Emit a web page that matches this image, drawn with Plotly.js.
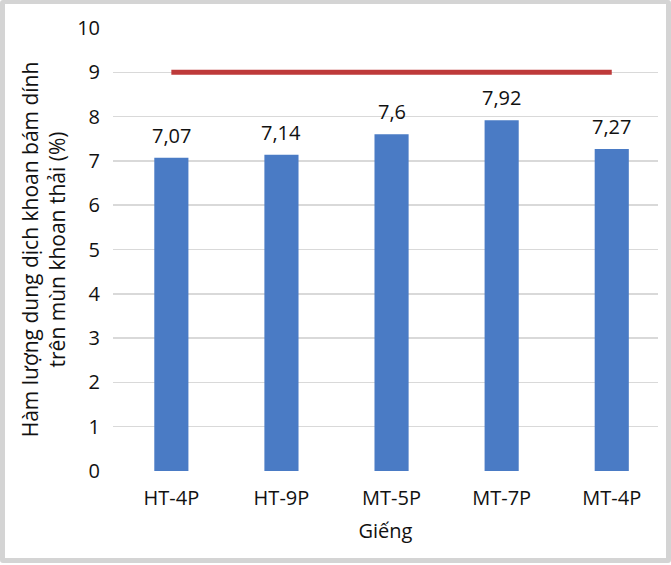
<!DOCTYPE html>
<html>
<head>
<meta charset="utf-8">
<script src="https://cdn.plot.ly/plotly-3.0.1.min.js"></script>
<style>
html,body{margin:0;padding:0;background:#fff;}
#frame{position:absolute;left:0;top:0;width:671px;height:563px;box-sizing:border-box;border:5px solid #d4d4d4;border-top-width:4px;border-radius:3px;}
#chart{position:absolute;left:0;top:0;width:671px;height:565px;}
</style>
</head>
<body>
<div id="chart"></div>
<div id="frame"></div>
<script>
const categories = ["HT-4P", "HT-9P", "MT-5P", "MT-7P", "MT-4P"];
const values = [7.07, 7.14, 7.6, 7.92, 7.27];
const limitValues = [9, 9, 9, 9, 9];
const yTitle = "Hàm lượng dung dịch khoan bám dính<br>trên mùn khoan thải (%)";
const xTitle = "Giếng";

const font = "Open Sans, Noto Sans, sans-serif";
const ink = "#111";

const traces = [
  {
    type: "bar",
    x: categories,
    y: values,
    marker: {color: "#4a7bc5"},
    hoverinfo: "skip"
  },
  {
    type: "scatter",
    mode: "lines",
    x: categories,
    y: limitValues,
    line: {color: "#be3a3a", width: 5},
    hoverinfo: "skip"
  }
];

const annotations = categories.map((c, i) => ({
  x: c,
  y: values[i],
  xref: "x",
  yref: "y",
  text: String(values[i]).replace(".", ","),
  showarrow: false,
  yanchor: "bottom",
  yshift: 7,
  font: {family: font, size: 20, color: ink}
}));

const layout = {
  width: 671,
  height: 565,
  margin: {l: 113, r: 13, t: 28, b: 94},
  paper_bgcolor: "rgba(0,0,0,0)",
  plot_bgcolor: "#fff",
  showlegend: false,
  bargap: 0.69,
  font: {family: font, size: 20, color: ink},
  annotations: annotations,
  xaxis: {
    type: "category",
    range: [-0.53, 4.42],
    showgrid: false,
    zeroline: false,
    showline: false,
    ticks: "",
    ticklabelstandoff: 13,
    tickfont: {family: font, size: 20, color: ink},
    title: {text: xTitle, font: {family: font, size: 20, color: ink}, standoff: 13},
    automargin: false
  },
  yaxis: {
    range: [0, 10],
    dtick: 1,
    showgrid: true,
    gridcolor: "#d9d9d9",
    gridwidth: 1.5,
    zeroline: false,
    showline: false,
    ticks: "",
    ticklabelstandoff: 12,
    tickfont: {family: font, size: 20, color: ink},
    title: {text: yTitle, font: {family: font, size: 21, color: ink}, standoff: 5},
    automargin: false
  }
};

Plotly.newPlot("chart", traces, layout, {staticPlot: true, displayModeBar: false});
</script>
</body>
</html>
